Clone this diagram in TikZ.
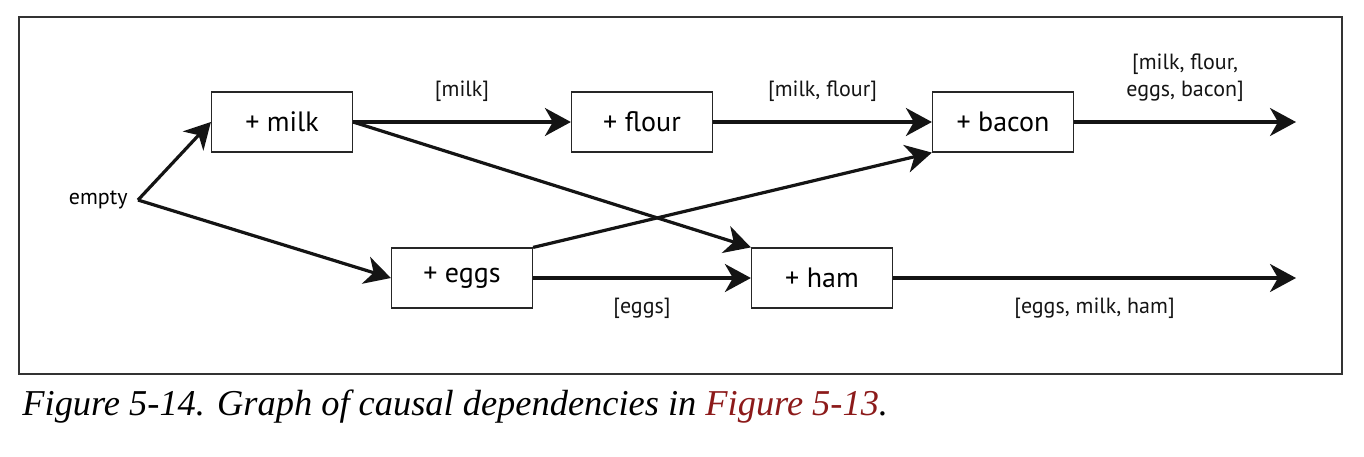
\documentclass[tikz,border=0pt]{standalone}
\usepackage{fontspec}
\setmainfont{PT Sans}
\newfontfamily\capfont{Liberation Serif}
\usetikzlibrary{arrows.meta, positioning}
\definecolor{figred}{RGB}{140,26,26}
\begin{document}
\begin{tikzpicture}[>={Stealth[length=13pt, width=14pt, inset=4pt]}, x=0.5pt, y=-0.5pt,
  font=\fontsize{11}{13.5}\selectfont,
  op/.style={draw=black!85, line width=0.6pt, minimum width=70.5pt, minimum height=30pt, font=\fontsize{14}{16}\selectfont},
  dep/.style={->, line width=1.6pt, black!92}]
\useasboundingbox (0,0) rectangle (1364,456);
\draw[black!80, line width=0.6pt] (19,17) rectangle (1342,374);
%
\node[op] (milk) at (282,122) {+ milk};
\node[op] (flour) at (642,122) {+ flour};
\node[op] (bacon) at (1003,122) {+ bacon};
\node[op] (eggs) at (462,278) {+ eggs};
\node[op] (ham) at (822,278) {+ ham};
\node[anchor=east, inner sep=0pt] (empty) at (128,200) {empty};
\coordinate (fork) at (138,200);
\coordinate (out1) at (1296,122);
\coordinate (out2) at (1296,278);
%
\draw[dep] (fork) -- (milk.west);
\draw[dep] (fork) -- (eggs.west);
\draw[dep] (milk) -- node[above=6pt] {[milk]} (flour);
\draw[dep] (flour) -- node[above=6pt] {[milk, flour]} (bacon);
\draw[dep] (milk.east) -- (ham.north west);
\draw[dep] (eggs.north east) -- (bacon.south west);
\draw[dep] (eggs) -- node[below=6pt] {[eggs]} (ham);
\draw[dep] (bacon) -- node[above=6pt, align=center] {[milk, flour,\\ eggs, bacon]} (out1);
\draw[dep] (ham) -- node[below=6pt] {[eggs, milk, ham]} (out2);
%
\node[anchor=base west, inner sep=0pt, font=\capfont\itshape\fontsize{18.2}{22}\selectfont] (caption) at (22,415)
  {Figure 5-14. Graph of causal dependencies in \textcolor{figred}{Figure 5-13}.};
\end{tikzpicture}
\end{document}
